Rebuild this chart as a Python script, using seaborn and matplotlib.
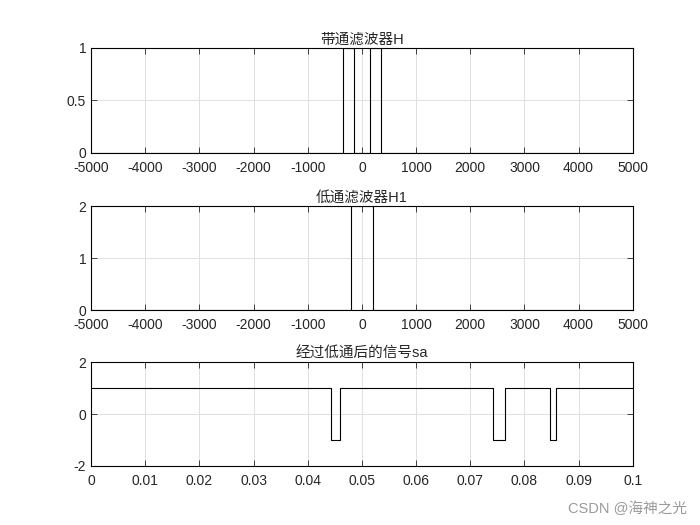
import matplotlib
matplotlib.use("Agg")
import matplotlib.pyplot as plt
from matplotlib.ticker import MultipleLocator
import seaborn as sns
import pandas as pd

# band-pass filter H (frequency breakpoints, Hz)
f_bp = [-5000, -350, -350, -150, -150, 150, 150, 350, 350, 5000]
h_bp = [0, 0, 1, 1, 0, 0, 1, 1, 0, 0]

# low-pass filter H1
f_lp = [-5000, -200, -200, 200, 200, 5000]
h_lp = [0, 0, 2, 2, 0, 0]

# signal sa after low-pass (time breakpoints, s)
t_sa = [0, 0.0443, 0.0443, 0.0459, 0.0459, 0.0742, 0.0742, 0.0764, 0.0764,
        0.0847, 0.0847, 0.0858, 0.0858, 0.1]
v_sa = [1, 1, -1, -1, 1, 1, -1, -1, 1, 1, -1, -1, 1, 1]

titles = ["带通滤波器H", "低通滤波器H1", "经过低通后的信号sa"]
freq_ticks = [-5000, -4000, -3000, -2000, -1000, 0, 1000, 2000, 3000, 4000, 5000]
time_ticks = [0, 0.01, 0.02, 0.03, 0.04, 0.05, 0.06, 0.07, 0.08, 0.09, 0.1]

sns.set_theme(style="white")
plt.rcParams["font.family"] = ["Liberation Sans", "Noto Sans CJK SC", "DejaVu Sans"]

fig = plt.figure(figsize=(7, 5.25), dpi=100)
boxes = [[0.13, 0.7086, 0.774, 0.200],
         [0.13, 0.4095, 0.774, 0.198],
         [0.13, 0.1124, 0.774, 0.198]]
axes = [fig.add_axes(b) for b in boxes]

data = [(f_bp, h_bp), (f_lp, h_lp), (t_sa, v_sa)]
for ax, (x, y), title in zip(axes, data, titles):
    df = pd.DataFrame({"x": x, "y": y})
    sns.lineplot(data=df, x="x", y="y", ax=ax, sort=False, estimator=None,
                 color="black", linewidth=0.8)
    ax.set_title(title, fontsize=10.5, pad=3)
    ax.set_xlabel("")
    ax.set_ylabel("")
    ax.grid(True, color="#e0e0e0", linewidth=0.7)
    ax.set_axisbelow(True)
    for s in ax.spines.values():
        s.set_color("black")
        s.set_linewidth(0.8)
    ax.tick_params(direction="in", length=4, width=0.6, labelsize=10,
                   top=True, right=True, bottom=True, left=True)
    ax.tick_params(axis="x", pad=6)
    ax.tick_params(axis="y", pad=3.5)

ax1, ax2, ax3 = axes
for ax in (ax1, ax2):
    ax.set_xlim(-5000, 5000)
    ax.set_xticks(freq_ticks)
    ax.set_xticklabels([str(t) for t in freq_ticks])
    ax.xaxis.set_minor_locator(MultipleLocator(50))
    ax.tick_params(axis="x", which="minor", direction="out", length=1.5,
                   width=0.5, color="#aaaaaa", top=False)

ax1.set_ylim(0, 1)
ax1.set_yticks([0, 0.5, 1])
ax1.set_yticklabels(["0", "0.5", "1"])

ax2.set_ylim(0, 2)
ax2.set_yticks([0, 1, 2])
ax2.set_yticklabels(["0", "1", "2"])

ax3.set_xlim(0, 0.1)
ax3.set_xticks(time_ticks)
ax3.set_xticklabels(["0", "0.01", "0.02", "0.03", "0.04", "0.05", "0.06",
                     "0.07", "0.08", "0.09", "0.1"])
ax3.set_ylim(-2, 2)
ax3.set_yticks([-2, 0, 2])
ax3.set_yticklabels(["-2", "0", "2"])

fig.text(0.982, 0.018, "CSDN @海神之光", ha="right", va="bottom",
         fontsize=10.5, color="#9a9a9a")

fig.savefig("out.png", dpi=100, facecolor="white")
